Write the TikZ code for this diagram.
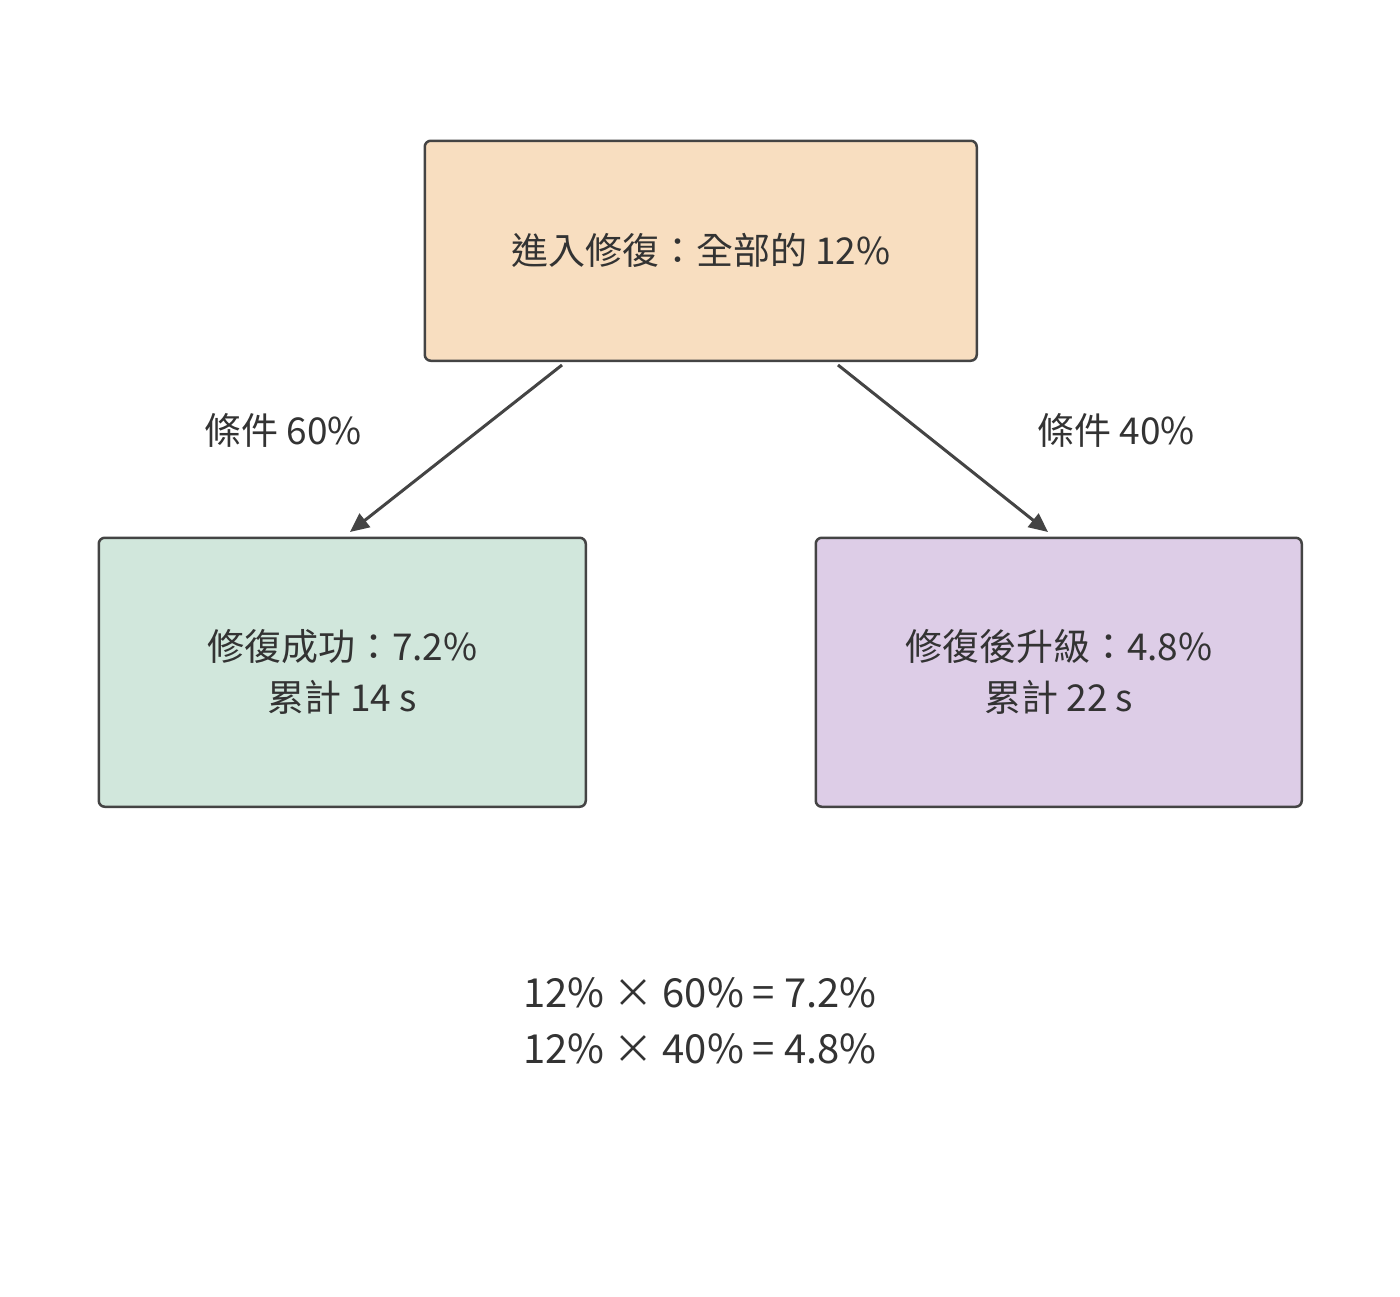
\documentclass[tikz,border=0pt]{standalone}
\usepackage{fontspec}
\setmainfont{Noto Sans CJK TC}
\usetikzlibrary{arrows.meta}
\definecolor{txt}{HTML}{333333}
\definecolor{edge}{HTML}{444444}
\definecolor{peach}{HTML}{F8DEC0}
\definecolor{mint}{HTML}{D1E7DC}
\definecolor{lav}{HTML}{DDCDE7}
\tikzset{
  box/.style={draw=edge, line width=2.5pt, rounded corners=6pt, inner sep=0pt, anchor=north west, text=txt, font=\fontsize{37}{51}\selectfont, align=center},
  lbl/.style={text=txt, font=\fontsize{37}{51}\selectfont, inner sep=0pt},
  conn/.style={draw=edge, line width=3pt, -{Triangle[length=19pt,width=17pt]}}
}
\begin{document}
\begin{tikzpicture}[x=1pt,y=-1pt]
\useasboundingbox[fill=white] (0,0) rectangle (1400,1296);
\node[box, fill=peach, minimum width=552pt, minimum height=220pt] (top) at (423.5,139.5) {進入修復：全部的 12\%};
\node[box, fill=mint, minimum width=487pt, minimum height=269pt] (left) at (97.5,536.5) {修復成功：7.2\%\\累計 14 s};
\node[box, fill=lav, minimum width=486pt, minimum height=269pt] (right) at (814.5,536.5) {修復後升級：4.8\%\\累計 22 s};
\coordinate (s1) at (562,365);
\coordinate (e1) at (350,532);
\coordinate (s2) at (838,365);
\coordinate (e2) at (1048,532);
\draw[conn] (s1) -- (e1);
\draw[conn] (s2) -- (e2);
\node[lbl] (l1) at (283,430) {條件 60\%};
\node[lbl] (l2) at (1116,430) {條件 40\%};
\node[lbl, align=center, font=\fontsize{40}{56}\selectfont] (formula) at (700,1021) {12\% × 60\% = 7.2\%\\12\% × 40\% = 4.8\%};
\end{tikzpicture}
\end{document}
